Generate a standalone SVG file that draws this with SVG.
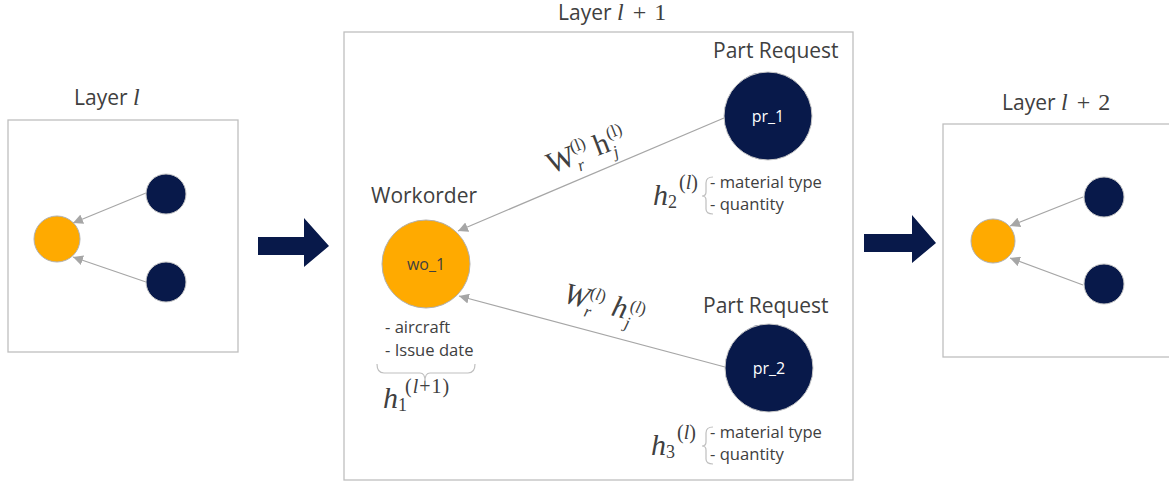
<svg xmlns="http://www.w3.org/2000/svg" width="1169" height="485" viewBox="0 0 1169 485">
<defs>
<marker id="ah" viewBox="0 0 10 10" refX="10" refY="5" markerWidth="10" markerHeight="10" markerUnits="userSpaceOnUse" orient="auto">
<path d="M0,0 L10,5 L0,10 z" fill="#A6A6A6"/>
</marker>
<style>
.box{fill:#fff;stroke:#BFBFBF;stroke-width:1.3}
.org{fill:#FFAA00;stroke:#B0B0B0;stroke-width:1}
.nav{fill:#08194A;stroke:#C8C8C8;stroke-width:1}
.edge{stroke:#A6A6A6;stroke-width:1.2;fill:none;marker-end:url(#ah)}
.lbl{font-family:"Open Sans","Liberation Sans",sans-serif;fill:#404040}
.math{font-family:"Liberation Serif","DejaVu Serif",serif;fill:#404040}
.big{font-size:21px}
.pr{font-size:21px}
.sm{font-size:16.6px}
.brace{fill:none;stroke:#BFBFBF;stroke-width:1.2}
.arr{fill:#08194A}
</style>
</defs>

<!-- panels -->
<rect class="box" x="8" y="120" width="230" height="232"/>
<rect class="box" x="344" y="32" width="509" height="448"/>
<rect class="box" x="943" y="124" width="240" height="233"/>

<!-- big arrows -->
<path class="arr" d="M258,237 H304 V218 L329,246 L304,267 V255 H258 Z"/>
<path class="arr" d="M864,234 H912 V215 L936,243 L912,263 V252 H864 Z"/>

<!-- panel titles -->
<text class="lbl big" x="74" y="105">Layer <tspan class="math" font-style="italic" font-size="24">l</tspan></text>
<text class="lbl big" x="558" y="20">Layer <tspan class="math" font-style="italic" font-size="24">l</tspan><tspan class="math" font-size="24" dx="9">+</tspan><tspan class="math" font-size="24" dx="8">1</tspan></text>
<text class="lbl big" x="1002" y="110">Layer <tspan class="math" font-style="italic" font-size="24">l</tspan><tspan class="math" font-size="24" dx="9">+</tspan><tspan class="math" font-size="24" dx="8">2</tspan></text>

<!-- connectors -->
<g id="connectors">
<line class="edge" x1="146" y1="193" x2="73" y2="223"/>
<line class="edge" x1="146" y1="282" x2="73" y2="257"/>
<line class="edge" x1="1083" y1="197" x2="1010" y2="226"/>
<line class="edge" x1="1083" y1="285" x2="1010" y2="258"/>
<line class="edge" x1="724" y1="118" x2="458" y2="231"/>
<line class="edge" x1="725" y1="367" x2="459" y2="296"/>
</g>

<!-- left panel nodes -->
<g id="left-target"><circle class="org" cx="57" cy="239" r="23"/></g>
<g id="left-src1"><circle class="nav" cx="166" cy="194" r="20"/></g>
<g id="left-src2"><circle class="nav" cx="166" cy="282" r="20"/></g>

<!-- right panel nodes -->
<g id="right-target"><circle class="org" cx="993" cy="241" r="22"/></g>
<g id="right-src1"><circle class="nav" cx="1104" cy="197" r="20"/></g>
<g id="right-src2"><circle class="nav" cx="1104" cy="284" r="20"/></g>

<!-- workorder -->
<g id="wo_1">
<text class="lbl pr" x="371" y="203">Workorder</text>
<circle class="org" cx="426" cy="264" r="44"/>
<text class="lbl" font-size="16" x="426" y="270" text-anchor="middle">wo_1</text>
<text class="lbl sm" x="385" y="333">- aircraft</text>
<text class="lbl sm" x="385" y="356">- Issue date</text>
<path class="brace" d="M377,364 Q377,373 384,373 H420 Q425,373 425,381 Q425,373 430,373 H468 Q475,373 475,364"/>
<text class="math" font-style="italic" font-size="30" x="383" y="408">h</text>
<text class="math" font-size="18" x="398" y="411">1</text>
<text class="math" font-size="20" x="405" y="393" letter-spacing="1">(<tspan font-style="italic">l</tspan>+1)</text>
</g>

<!-- pr_1 -->
<g id="pr_1">
<text class="lbl pr" x="713" y="58">Part Request</text>
<circle class="nav" cx="768" cy="116" r="44"/>
<text class="lbl" font-size="16" x="768" y="122" text-anchor="middle" style="fill:#fff">pr_1</text>
<text class="math" font-style="italic" font-size="30" x="653" y="205">h</text>
<text class="math" font-size="18" x="668" y="208">2</text>
<text class="math" font-size="20" x="679" y="189">(<tspan font-style="italic">l</tspan>)</text>
<path class="brace" d="M713,177 Q706,177 706,183 V192 Q706,196 702,196 Q706,196 706,200 V209 Q706,214 713,214"/>
<text class="lbl sm" x="710" y="188">- material type</text>
<text class="lbl sm" x="710" y="210">- quantity</text>
</g>

<!-- pr_2 -->
<g id="pr_2">
<text class="lbl pr" x="703" y="313">Part Request</text>
<circle class="nav" cx="769" cy="368" r="44"/>
<text class="lbl" font-size="16" x="769" y="374" text-anchor="middle" style="fill:#fff">pr_2</text>
<text class="math" font-style="italic" font-size="30" x="651" y="455">h</text>
<text class="math" font-size="18" x="666" y="458">3</text>
<text class="math" font-size="20" x="677" y="439">(<tspan font-style="italic">l</tspan>)</text>
<path class="brace" d="M713,427 Q706,427 706,433 V442 Q706,446 702,446 Q706,446 706,450 V459 Q706,464 713,464"/>
<text class="lbl sm" x="710" y="438">- material type</text>
<text class="lbl sm" x="710" y="460">- quantity</text>
</g>

<!-- edge labels -->
<g transform="translate(551,174) rotate(-21)">
<text class="math" font-size="30" x="0" y="0">W</text>
<text class="math" font-style="italic" font-size="17" x="28" y="8">r</text>
<text class="math" font-size="17" x="27" y="-12">(l)</text>
<text class="math" font-size="30" x="50" y="0">h</text>
<text class="math" font-style="italic" font-size="17" x="66" y="8">j</text>
<text class="math" font-size="17" x="66" y="-12">(l)</text>
</g>
<g transform="translate(562,302) rotate(15)">
<text class="math" font-style="italic" font-size="30" x="0" y="0">W</text>
<text class="math" font-style="italic" font-size="17" x="24" y="8">r</text>
<text class="math" font-size="17" x="25" y="-11">(<tspan font-style="italic">l</tspan>)</text>
<text class="math" font-style="italic" font-size="30" x="50" y="0">h</text>
<text class="math" font-style="italic" font-size="17" x="66" y="9">j</text>
<text class="math" font-size="17" x="67" y="-9">(<tspan font-style="italic">l</tspan>)</text>
</g>
</svg>
